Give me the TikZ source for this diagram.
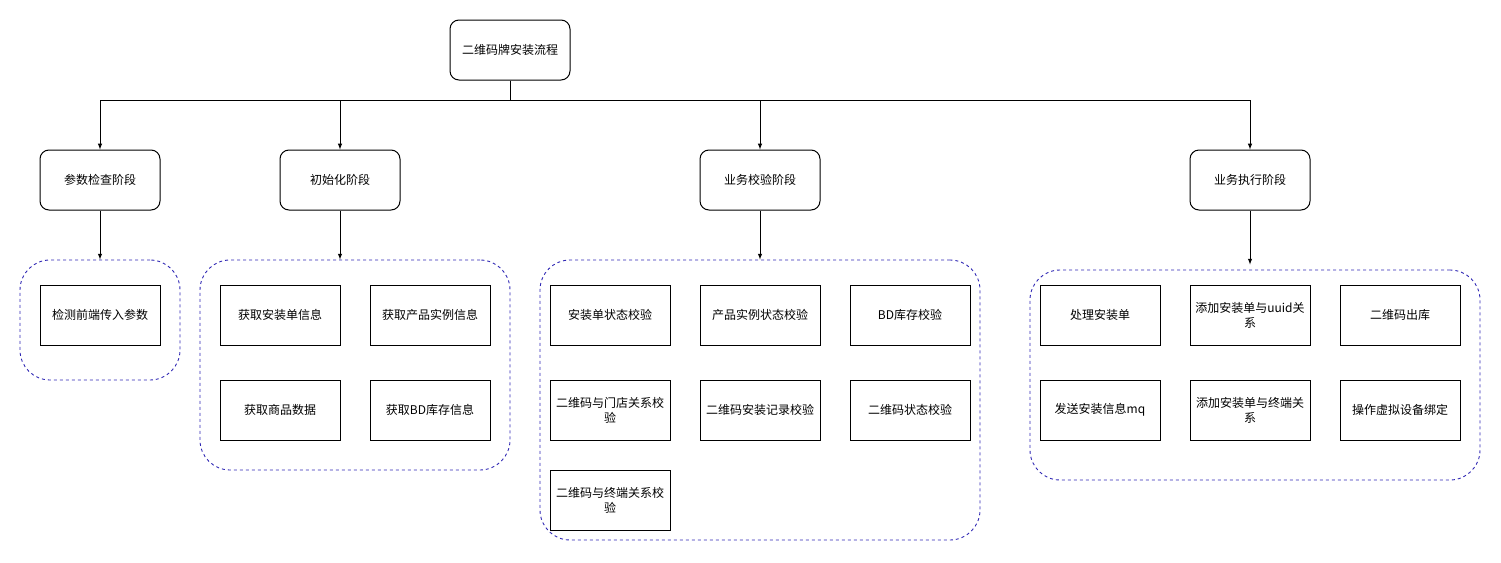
\documentclass[tikz,border=0pt]{standalone}
\usepackage{fontspec}
\setmainfont{Noto Sans CJK SC}
\usepackage{tikz}
\pgfdeclarelayer{edgelayer}
\pgfdeclarelayer{nodelayer}
\pgfsetlayers{edgelayer,nodelayer,main}
\definecolor{groupblue}{RGB}{48,40,180}
\tikzstyle{edge}=[draw=black, line width=1pt, -latex]
\tikzstyle{stage}=[rectangle, rounded corners=9pt, fill=white, draw=black, line width=1pt, minimum width=120pt, minimum height=60pt, font=\fontsize{12}{15}\selectfont]
\tikzstyle{task}=[rectangle, fill=white, draw=black, line width=1pt, minimum width=120pt, minimum height=60pt, align=center, font=\fontsize{12}{15}\selectfont]
\tikzstyle{group}=[rectangle, rounded corners=30pt, draw=groupblue, line width=0.9pt, dash pattern=on 3pt off 3pt]

\begin{document}
\begin{tikzpicture}[x=1pt, y=-1pt]
				\useasboundingbox (0,0) rectangle (1501,562);
				\begin{pgfonlayer}{nodelayer}
					\node [style=stage] (0) at (510, 50) {二维码牌安装流程};
					\node [style=stage] (1) at (100, 180) {参数检查阶段};
					\node [style=stage] (2) at (340, 180) {初始化阶段};
					\node [style=stage] (3) at (760, 180) {业务校验阶段};
					\node [style=stage] (4) at (1250, 180) {业务执行阶段};
					\node [style=task] (10) at (100, 315) {检测前端传入参数};
					\node [style=task] (20) at (280, 315) {获取安装单信息};
					\node [style=task] (21) at (430, 315) {获取产品实例信息};
					\node [style=task] (22) at (280, 410) {获取商品数据};
					\node [style=task] (23) at (430, 410) {获取BD库存信息};
					\node [style=task] (30) at (610, 315) {安装单状态校验};
					\node [style=task] (31) at (760, 315) {产品实例状态校验};
					\node [style=task] (32) at (910, 315) {BD库存校验};
					\node [style=task] (33) at (610, 410) {二维码与门店关系校\\验};
					\node [style=task] (34) at (760, 410) {二维码安装记录校验};
					\node [style=task] (35) at (910, 410) {二维码状态校验};
					\node [style=task] (36) at (610, 500) {二维码与终端关系校\\验};
					\node [style=task] (40) at (1100, 315) {处理安装单};
					\node [style=task] (41) at (1250, 315) {添加安装单与uuid关\\系};
					\node [style=task] (42) at (1400, 315) {二维码出库};
					\node [style=task] (43) at (1100, 410) {发送安装信息mq};
					\node [style=task] (44) at (1250, 410) {添加安装单与终端关\\系};
					\node [style=task] (45) at (1400, 410) {操作虚拟设备绑定};
				\end{pgfonlayer}
				\begin{pgfonlayer}{edgelayer}
					\node [style=group, minimum width=160pt, minimum height=120pt] (11) at (100, 320) {};
					\node [style=group, minimum width=310pt, minimum height=210pt] (24) at (355, 365) {};
					\node [style=group, minimum width=440pt, minimum height=280pt] (37) at (760, 400) {};
					\node [style=group, minimum width=450pt, minimum height=210pt] (46) at (1255, 375) {};
					\coordinate (5) at (510, 100);
					\draw [style=edge] (0.south) -- (5) -| (1.north);
					\draw [style=edge] (0.south) -- (5) -| (2.north);
					\draw [style=edge] (0.south) -- (5) -| (3.north);
					\draw [style=edge] (0.south) -- (5) -| (4.north);
					\draw [style=edge] (1.south) -- (1.south |- 11.north);
					\draw [style=edge] (2.south) -- (2.south |- 24.north);
					\draw [style=edge] (3.south) -- (3.south |- 37.north);
					\draw [style=edge] (4.south) -- ([yshift=5pt]4.south |- 46.north);
				\end{pgfonlayer}
			\end{tikzpicture}
\end{document}
